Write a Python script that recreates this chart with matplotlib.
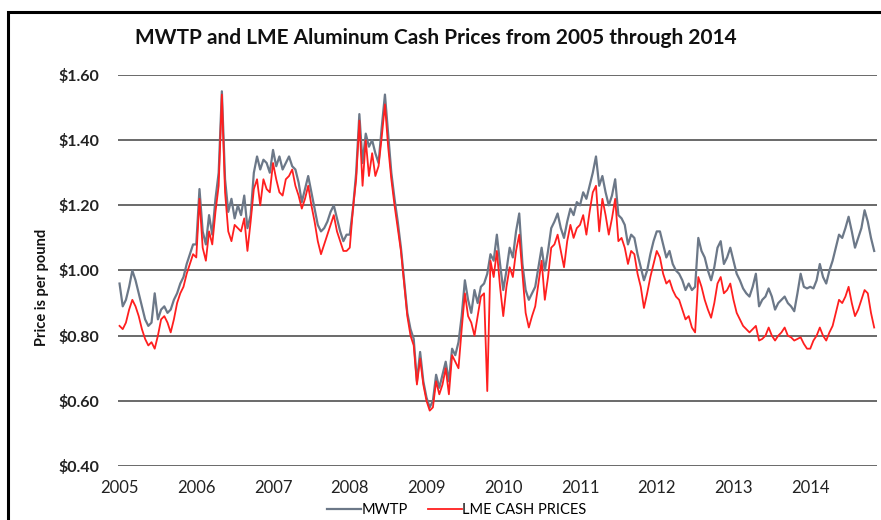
import numpy as np
import matplotlib
matplotlib.use("Agg")
import matplotlib.pyplot as plt
from matplotlib.lines import Line2D
from matplotlib.patches import Rectangle

plt.rcParams['font.family'] = ['Lato', 'DejaVu Sans']

# semi-monthly readings, Jan 2005 .. Nov 2014 ($ per pound)
mwtp = [
    # 2005
    0.96, 0.89, 0.91, 0.95, 1.00, 0.97, 0.93, 0.89, 0.85, 0.83, 0.84, 0.93,
    0.85, 0.88, 0.89, 0.87, 0.88, 0.91, 0.93, 0.96, 0.98, 1.02, 1.05, 1.08,
    # 2006
    1.08, 1.25, 1.12, 1.08, 1.17, 1.11, 1.22, 1.30, 1.55, 1.28, 1.18, 1.22,
    1.16, 1.20, 1.17, 1.23, 1.13, 1.17, 1.30, 1.35, 1.31, 1.34, 1.33, 1.30,
    # 2007
    1.37, 1.32, 1.35, 1.31, 1.33, 1.35, 1.32, 1.31, 1.27, 1.21, 1.25, 1.29,
    1.24, 1.19, 1.14, 1.12, 1.13, 1.15, 1.18, 1.20, 1.16, 1.12, 1.09, 1.11,
    # 2008
    1.11, 1.19, 1.30, 1.48, 1.33, 1.42, 1.38, 1.40, 1.36, 1.33, 1.44, 1.54,
    1.42, 1.30, 1.22, 1.15, 1.07, 0.97, 0.87, 0.82, 0.79, 0.66, 0.75, 0.66,
    # 2009
    0.61, 0.58, 0.60, 0.68, 0.64, 0.68, 0.72, 0.66, 0.76, 0.74, 0.78, 0.86,
    0.97, 0.91, 0.87, 0.94, 0.90, 0.95, 0.96, 0.99, 1.05, 1.03, 1.11, 1.02,
    # 2010
    0.94, 1.00, 1.07, 1.04, 1.12, 1.175, 1.02, 0.94, 0.91, 0.93, 0.95, 1.01,
    1.07, 1.00, 1.06, 1.13, 1.15, 1.175, 1.13, 1.10, 1.15, 1.19, 1.17, 1.21,
    # 2011
    1.20, 1.24, 1.22, 1.26, 1.30, 1.35, 1.26, 1.29, 1.24, 1.20, 1.23, 1.28,
    1.17, 1.16, 1.14, 1.08, 1.11, 1.10, 1.05, 1.01, 0.97, 1.00, 1.05, 1.09,
    # 2012
    1.12, 1.12, 1.08, 1.04, 1.06, 1.02, 1.00, 0.99, 0.97, 0.94, 0.96, 0.94,
    0.95, 1.10, 1.06, 1.04, 1.00, 0.97, 1.01, 1.07, 1.09, 1.02, 1.04, 1.07,
    # 2013
    1.03, 0.99, 0.97, 0.945, 0.93, 0.92, 0.95, 0.99, 0.89, 0.91, 0.92, 0.945,
    0.92, 0.88, 0.90, 0.91, 0.92, 0.90, 0.89, 0.875, 0.93, 0.99, 0.95, 0.945,
    # 2014
    0.95, 0.945, 0.97, 1.02, 0.98, 0.96, 1.00, 1.03, 1.07, 1.11, 1.10, 1.13,
    1.165, 1.12, 1.07, 1.10, 1.13, 1.185, 1.15, 1.10, 1.06,
]

lme = [
    # 2005
    0.83, 0.82, 0.84, 0.88, 0.91, 0.89, 0.86, 0.82, 0.79, 0.77, 0.78, 0.76,
    0.80, 0.85, 0.86, 0.84, 0.81, 0.85, 0.90, 0.93, 0.95, 0.99, 1.02, 1.05,
    # 2006
    1.04, 1.22, 1.07, 1.03, 1.12, 1.08, 1.18, 1.26, 1.54, 1.24, 1.12, 1.09,
    1.14, 1.13, 1.12, 1.16, 1.06, 1.15, 1.25, 1.28, 1.20, 1.28, 1.25, 1.24,
    # 2007
    1.33, 1.28, 1.24, 1.23, 1.28, 1.29, 1.31, 1.26, 1.23, 1.19, 1.22, 1.26,
    1.20, 1.15, 1.09, 1.05, 1.08, 1.11, 1.14, 1.17, 1.12, 1.09, 1.06, 1.06,
    # 2008
    1.07, 1.19, 1.28, 1.46, 1.26, 1.40, 1.29, 1.36, 1.29, 1.32, 1.41, 1.51,
    1.38, 1.28, 1.20, 1.13, 1.06, 0.96, 0.86, 0.80, 0.77, 0.65, 0.73, 0.65,
    # 2009
    0.60, 0.57, 0.58, 0.66, 0.62, 0.65, 0.70, 0.62, 0.74, 0.72, 0.70, 0.82,
    0.93, 0.86, 0.84, 0.80, 0.86, 0.92, 0.93, 0.63, 1.03, 0.98, 1.06, 0.95,
    # 2010
    0.86, 0.95, 1.01, 0.98, 1.06, 1.11, 0.99, 0.87, 0.825, 0.86, 0.89, 0.96,
    1.03, 0.91, 0.98, 1.07, 1.08, 1.11, 1.06, 1.01, 1.09, 1.14, 1.10, 1.13,
    # 2011
    1.14, 1.17, 1.11, 1.18, 1.24, 1.26, 1.12, 1.22, 1.17, 1.11, 1.16, 1.22,
    1.09, 1.10, 1.07, 1.02, 1.06, 1.05, 0.99, 0.95, 0.885, 0.93, 0.98, 1.02,
    # 2012
    1.06, 1.04, 0.99, 0.96, 0.97, 0.94, 0.92, 0.91, 0.88, 0.85, 0.86, 0.825,
    0.81, 0.98, 0.95, 0.91, 0.88, 0.855, 0.90, 0.96, 0.98, 0.93, 0.94, 0.96,
    # 2013
    0.91, 0.87, 0.85, 0.83, 0.82, 0.81, 0.82, 0.83, 0.785, 0.79, 0.80, 0.825,
    0.80, 0.785, 0.80, 0.81, 0.825, 0.80, 0.795, 0.785, 0.79, 0.795, 0.775, 0.76,
    # 2014
    0.76, 0.785, 0.80, 0.825, 0.80, 0.785, 0.81, 0.83, 0.87, 0.91, 0.90, 0.92,
    0.95, 0.90, 0.86, 0.88, 0.91, 0.94, 0.93, 0.87, 0.825,
]

years = list(range(2005, 2015))
yticks = [0.40, 0.60, 0.80, 1.00, 1.20, 1.40, 1.60]

t = 2005 + np.arange(len(mwtp)) / 24.0

fig = plt.figure(figsize=(8.81, 5.20), dpi=100)
ax = fig.add_axes([118 / 881, 54 / 520, (877 - 118) / 881, (466 - 75) / 520])

ax.plot(t, mwtp, color='#6c7888', lw=1.6, label='MWTP')
ax.plot(t, lme, color='#ff1f1f', lw=1.3, label='LME CASH PRICES')

ax.set_ylim(0.40, 1.60)
ax.set_xlim(2004.98, 2014.87)
ax.set_yticks(yticks)
ax.set_yticklabels(['$%.2f' % v for v in yticks])
ax.set_xticks(years)
ax.set_xticklabels([str(y) for y in years])
ax.grid(axis='y', color='#505050', lw=1.2)
ax.set_axisbelow(True)
for s in ax.spines.values():
    s.set_visible(False)
ax.tick_params(axis='y', length=0, pad=13.5, labelsize=11.5, labelcolor='#222222')
ax.tick_params(axis='x', length=0, pad=10, labelsize=12, labelcolor='#222222')
for lab in ax.get_yticklabels():
    lab.set_fontweight('bold')

fig.text(436 / 881, 1 - 38 / 520, 'MWTP and LME Aluminum Cash Prices from 2005 through 2014',
         ha='center', va='center', fontsize=15, fontweight='bold', color='#111111')
fig.text(42 / 881, 1 - 287 / 520, 'Price is per pound', rotation=90,
         ha='center', va='center', fontsize=10.5, fontweight='bold', color='#111111')

handles = [Line2D([], [], color='#6c7888', lw=1.6), Line2D([], [], color='#ff1f1f', lw=1.3)]
fig.legend(handles, ['MWTP', 'LME CASH PRICES'], loc='center', ncol=2,
           bbox_to_anchor=(457 / 881, 1 - 510 / 520), frameon=False, fontsize=10.5,
           handlelength=2.3, handletextpad=0.05, columnspacing=1.4,
           borderpad=0, borderaxespad=0)

fig.patches.append(Rectangle((8 / 881, -0.1), 1.2, 1.1 - 12 / 520, transform=fig.transFigure,
                             fill=False, ec='black', lw=2.2))

fig.savefig('out.png', dpi=100)
